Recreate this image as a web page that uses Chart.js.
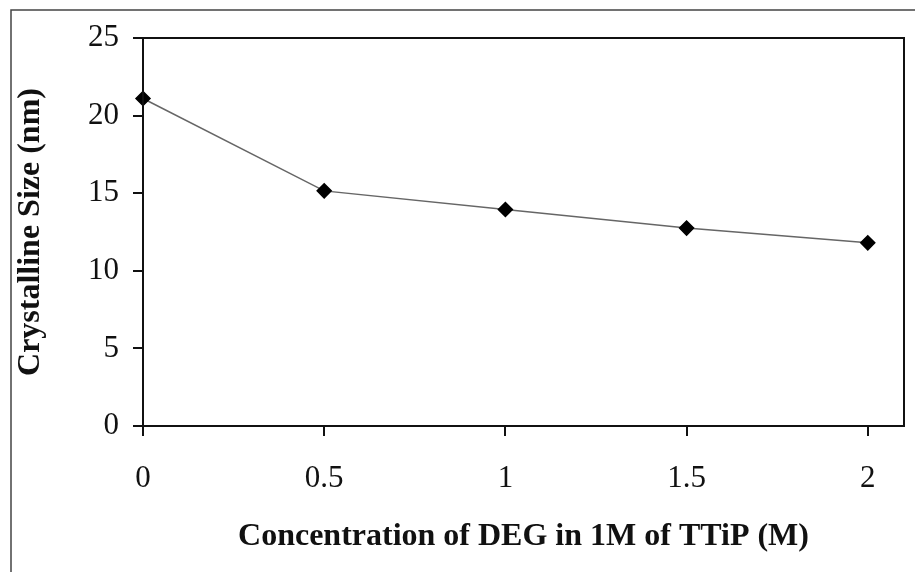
<!DOCTYPE html>
<html>
<head>
<meta charset="utf-8">
<script src="https://cdn.jsdelivr.net/npm/chart.js@4"></script>
<style>
  html, body { margin: 0; padding: 0; background: #fff; }
  #wrap { width: 915px; height: 572px; }
</style>
</head>
<body>
<div id="wrap"><canvas id="chart" width="915" height="572"></canvas></div>
<script>
// DEG concentration (M) vs crystallite size (nm)
const concentration = [0, 0.5, 1, 1.5, 2];
const crystalSize = [21.1, 15.15, 13.95, 12.75, 11.8];
const xTicks = [0, 0.5, 1, 1.5, 2];
const yTicks = [0, 5, 10, 15, 20, 25];

const serif = "'Liberation Serif', 'Times New Roman', serif";

// page frame + box around the plot area
const framePlugin = {
  id: 'frame',
  beforeDraw(chart) {
    const ctx = chart.ctx;
    ctx.save();
    ctx.fillStyle = '#fff';
    ctx.fillRect(0, 0, chart.width, chart.height);
    ctx.strokeStyle = '#444';
    ctx.lineWidth = 1.5;
    ctx.beginPath();
    ctx.moveTo(11, chart.height);
    ctx.lineTo(11, 10);
    ctx.lineTo(chart.width, 10);
    ctx.stroke();
    ctx.restore();
  },
  afterDraw(chart) {
    const a = chart.chartArea;
    const ctx = chart.ctx;
    ctx.save();
    ctx.strokeStyle = '#111';
    ctx.lineWidth = 2;
    ctx.strokeRect(a.left, a.top, a.right - a.left, a.bottom - a.top);
    ctx.restore();
  }
};

new Chart(document.getElementById('chart'), {
  type: 'scatter',
  data: {
    datasets: [{
      data: concentration.map((c, i) => ({ x: c, y: crystalSize[i] })),
      showLine: true,
      borderColor: '#666',
      borderWidth: 1.5,
      pointStyle: 'rectRot',
      pointRadius: 7,
      pointHoverRadius: 7,
      pointBackgroundColor: '#000',
      pointBorderColor: '#000',
      clip: false
    }]
  },
  options: {
    responsive: false,
    animation: false,
    layout: { padding: { left: 12, top: 38, right: 11, bottom: 0 } },
    plugins: { legend: { display: false }, tooltip: { enabled: false } },
    scales: {
      x: {
        type: 'linear',
        min: 0,
        max: 2.1,
        afterBuildTicks: (s) => { s.ticks = xTicks.map(v => ({ value: v })); },
        afterFit: (s) => { s.height = 146; },
        grid: { drawOnChartArea: false, color: '#111', tickLength: 10, lineWidth: 2 },
        border: { color: '#111', width: 2 },
        ticks: {
          color: '#111',
          font: { family: serif, size: 31 },
          padding: 24,
          maxRotation: 0,
          callback: (v) => String(v)
        },
        title: {
          display: true,
          text: 'Concentration of DEG in 1M of TTiP (M)',
          color: '#111',
          font: { family: serif, size: 32, weight: 'bold' },
          padding: { top: 0, bottom: 16 }
        }
      },
      y: {
        min: 0,
        max: 25,
        afterBuildTicks: (s) => { s.ticks = yTicks.map(v => ({ value: v })); },
        afterFit: (s) => { s.width = 131; },
        grid: { drawOnChartArea: false, color: '#111', tickLength: 10, lineWidth: 2 },
        border: { color: '#111', width: 2 },
        ticks: {
          color: '#111',
          font: { family: serif, size: 31 },
          padding: 14,
          callback: (v) => String(v)
        },
        title: {
          display: true,
          text: 'Crystalline Size (nm)',
          color: '#111',
          font: { family: serif, size: 32, weight: 'bold' },
          padding: { top: 0, bottom: 0 }
        }
      }
    }
  },
  plugins: [framePlugin]
});
</script>
</body>
</html>
